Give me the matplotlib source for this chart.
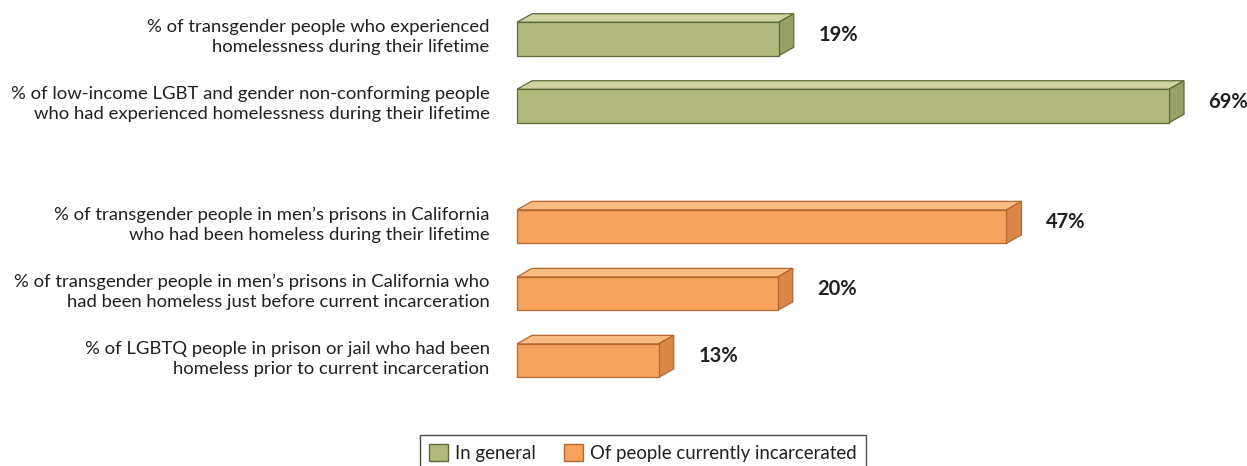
import matplotlib
matplotlib.use("Agg")
import matplotlib.pyplot as plt
from matplotlib.patches import Polygon, Patch

plt.rcParams['font.family'] = ['Lato', 'DejaVu Sans']

categories = [
    "% of transgender people who experienced\nhomelessness during their lifetime",
    "% of low-income LGBT and gender non-conforming people\nwho had experienced homelessness during their lifetime",
    "% of transgender people in men\u2019s prisons in California\nwho had been homeless during their lifetime",
    "% of transgender people in men\u2019s prisons in California who\nhad been homeless just before current incarceration",
    "% of LGBTQ people in prison or jail who had been\nhomeless prior to current incarceration",
]
values = [19, 69, 47, 20, 13]
# drawn bar lengths as they appear in the original (not to scale)
bar_len = [27.7, 69, 51.8, 27.6, 15.0]
groups = ["general", "general", "incarcerated", "incarcerated", "incarcerated"]
group_labels = {"general": "In general", "incarcerated": "Of people currently incarcerated"}

colors = {
    "general": dict(front="#b2b97c", top="#cfd4a0", side="#98a067", edge="#5d6b3b"),
    "incarcerated": dict(front="#f7a25d", top="#f9bd84", side="#dc874a", edge="#b5672e"),
}

ypos = [0, 1, 2.8, 3.8, 4.8]
H = 0.5
W, Hpx = 1247, 466
s = 652 / 69          # px per unit
row = 67              # px per row unit
dx = 15 / s
dy = -8.5 / row

fig = plt.figure(figsize=(W / 100, Hpx / 100), dpi=100)
ax = fig.add_axes([0, 0, 1, 1])
ax.set_xlim(-517 / s, (W - 517) / s)
ax.set_ylim((Hpx - 39) / row, -39 / row)
ax.axis('off')

for cat, v, L, g, y in zip(categories, values, bar_len, groups, ypos):
    c = colors[g]
    y0, y1 = y - H / 2, y + H / 2
    ax.add_patch(Polygon([(0, y0), (L, y0), (L + dx, y0 + dy), (dx, y0 + dy)],
                         closed=True, fc=c["top"], ec=c["edge"], lw=0.9))
    ax.add_patch(Polygon([(L, y0), (L + dx, y0 + dy), (L + dx, y1 + dy), (L, y1)],
                         closed=True, fc=c["side"], ec=c["edge"], lw=0.9))
    ax.barh(y, L, height=H, left=0, color=c["front"], edgecolor=c["edge"], linewidth=0.9)
    ax.text(L + dx + 2.6, y + dy / 2, f"{v}%", ha='left', va='center',
            fontsize=14.5, fontweight='bold', color="#231f20")
    ax.text(-2.9, y - 0.03, cat, ha='right', va='center', multialignment='right',
            fontsize=13.3, color="#231f20", linespacing=1.32)

handles = [Patch(facecolor=colors[k]["front"], edgecolor=colors[k]["edge"], label=group_labels[k])
           for k in ["general", "incarcerated"]]
leg = fig.legend(handles=handles, loc='upper center', bbox_to_anchor=(643 / W, 1 - 435 / Hpx),
                 ncol=2, frameon=True, fancybox=False, fontsize=13.4, handlelength=1.0,
                 handleheight=1.0, handletextpad=0.4, columnspacing=1.5, borderpad=0.5,
                 borderaxespad=0, labelcolor="#231f20")
leg.get_frame().set_edgecolor("#231f20")
leg.get_frame().set_linewidth(1.0)

fig.savefig("out.png", dpi=100)
